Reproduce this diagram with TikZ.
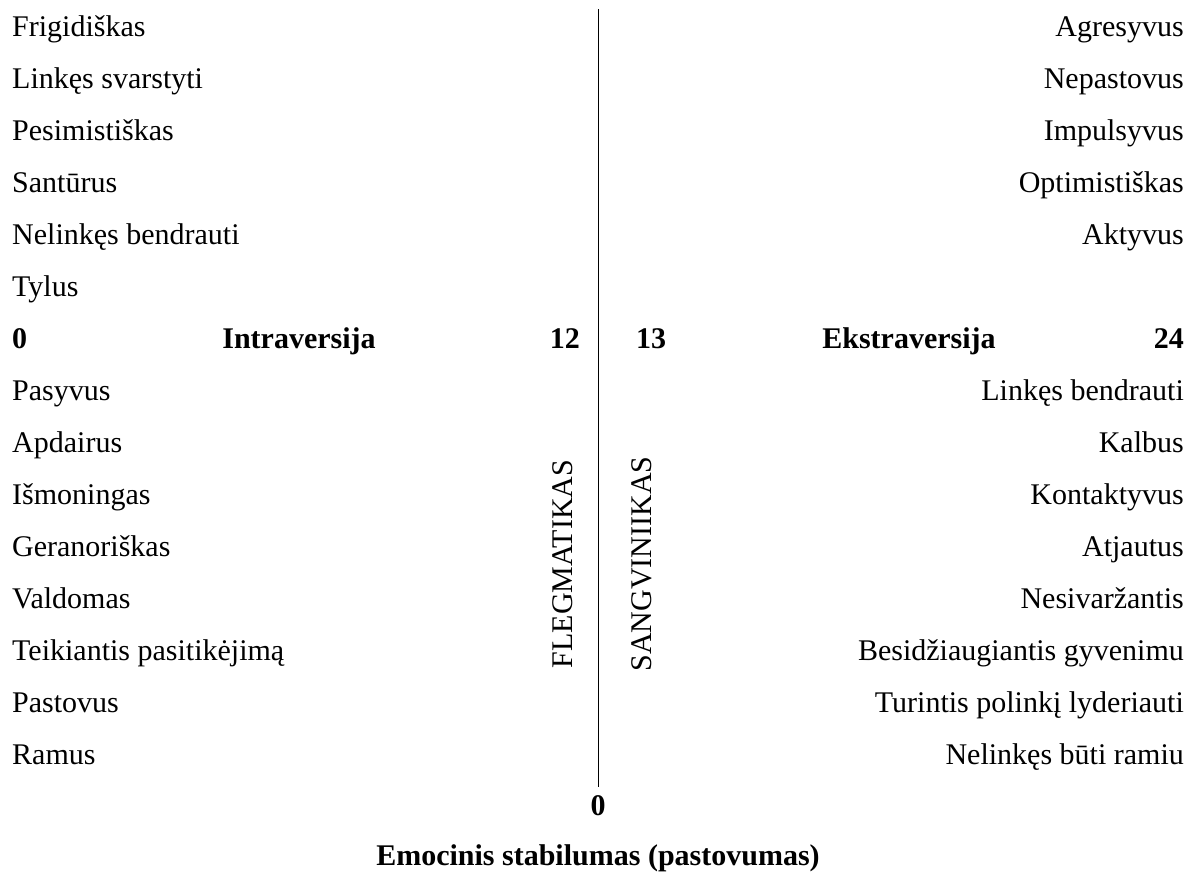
\documentclass[tikz,border=0pt]{standalone}
\usepackage{fontspec}
\setmainfont{Liberation Serif}

\begin{document}
\begin{tikzpicture}[x=1pt,y=-1pt,
  item/.style={inner sep=0pt,font=\fontsize{30}{36}\selectfont},
  bolditem/.style={inner sep=0pt,font=\fontsize{30}{36}\selectfont\bfseries}]
  \useasboundingbox (0,0) rectangle (1188,871);
  % left column
  \foreach \t [count=\i from 0] in {Frigidiškas,Linkęs svarstyti,Pesimistiškas,Santūrus,Nelinkęs bendrauti,Tylus}
    \node[item,anchor=base west] (l-\i) at (12,36+52*\i) {\t};
  \foreach \t [count=\i from 7] in {Pasyvus,Apdairus,Išmoningas,Geranoriškas,Valdomas,Teikiantis pasitikėjimą,Pastovus,Ramus}
    \node[item,anchor=base west] (l-\i) at (12,36+52*\i) {\t};
  % right column
  \foreach \t [count=\i from 0] in {Agresyvus,Nepastovus,Impulsyvus,Optimistiškas,Aktyvus}
    \node[item,anchor=base east] (r-\i) at (1184,36+52*\i) {\t};
  \foreach \t [count=\i from 7] in {Linkęs bendrauti,Kalbus,Kontaktyvus,Atjautus,Nesivaržantis,Besidžiaugiantis gyvenimu,Turintis polinkį lyderiauti,Nelinkęs būti ramiu}
    \node[item,anchor=base east] (r-\i) at (1184,36+52*\i) {\t};
  % scale row
  \node[bolditem,anchor=base west] (intro-min) at (12,348) {0};
  \node[bolditem,anchor=base] (intro) at (299,348) {Intraversija};
  \node[bolditem,anchor=base east] (intro-max) at (580,348) {12};
  \node[bolditem,anchor=base west] (extra-min) at (636,348) {13};
  \node[bolditem,anchor=base] (extra) at (909,348) {Ekstraversija};
  \node[bolditem,anchor=base east] (extra-max) at (1184,348) {24};
  % axis
  \coordinate (axis-top) at (598,9);
  \coordinate (axis-bot) at (598,787);
  \draw[line width=1pt] (axis-top) -- (axis-bot);
  \node[item,rotate=90] (fleg) at (563,564) {FLEGMATIKAS};
  \node[item,rotate=90] (sang) at (642,564) {SANGVINIIKAS};
  \node[bolditem] (stab-min) at (598,806) {0};
  \node[bolditem] (stab) at (598,858) {Emocinis stabilumas (pastovumas)};
\end{tikzpicture}
\end{document}
